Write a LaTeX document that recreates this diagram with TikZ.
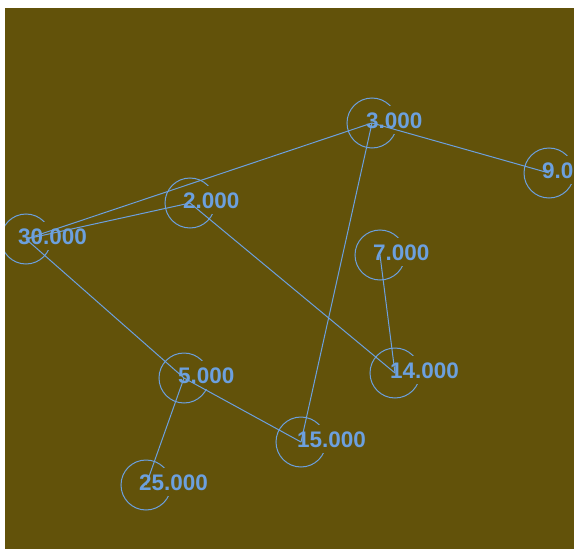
\documentclass[tikz,border=0pt]{standalone}
\usepackage{fontspec}
\setmainfont{Liberation Sans}
\usepackage{xcolor}
\definecolor{bgolive}{RGB}{98,82,10}
\definecolor{edgeblue}{RGB}{108,160,222}

\begin{document}
\begin{tikzpicture}[
      x=1pt, y=-1pt,
      vert/.style={circle, draw=edgeblue, line width=1pt, minimum size=50pt,
                   inner sep=0pt},
      lbl/.style={anchor=base west, fill=bgolive, inner xsep=1pt, inner ysep=6pt,
                  text=edgeblue, font=\bfseries\fontsize{22.5}{22.5}\selectfont},
      link/.style={draw=edgeblue, line width=1pt}
    ]
    \useasboundingbox (0,0) rectangle (574,549);
    \fill[bgolive] (5,8) rectangle (574,549);
    \clip (5,8) rectangle (574,549);
    % vertices
    \node[vert] (v3)  at (372,123) {};
    \node[vert] (v9)  at (549,173) {};
    \node[vert] (v2)  at (190,203) {};
    \node[vert] (v30) at (26,239)  {};
    \node[vert] (v7)  at (380,255) {};
    \node[vert] (v14) at (395,373) {};
    \node[vert] (v5)  at (184,378) {};
    \node[vert] (v15) at (301,442) {};
    \node[vert] (v25) at (146,485) {};
    % weights
    \node[lbl] (l3)  at (365,128) {3.000};
    \node[lbl] (l9)  at (541,178) {9.0};
    \node[lbl] (l2)  at (182,208) {2.000};
    \node[lbl] (l30) at (17,244)  {30.000};
    \node[lbl] (l7)  at (372,260) {7.000};
    \node[lbl] (l14) at (389,378) {14.000};
    \node[lbl] (l5)  at (177,383) {5.000};
    \node[lbl] (l15) at (296,447) {15.000};
    \node[lbl] (l25) at (138,490) {25.000};
    % edges
    \draw[link] (v30.center) -- (v3.center);
    \draw[link] (v30.center) -- (v2.center);
    \draw[link] (v30.center) -- (v5.center);
    \draw[link] (v3.center) -- (v9.center);
    \draw[link] (v3.center) -- (v15.center);
    \draw[link] (v2.center) -- (v14.center);
    \draw[link] (v7.center) -- (v14.center);
    \draw[link] (v5.center) -- (v15.center);
    \draw[link] (v5.center) -- (v25.center);
  \end{tikzpicture}
\end{document}
